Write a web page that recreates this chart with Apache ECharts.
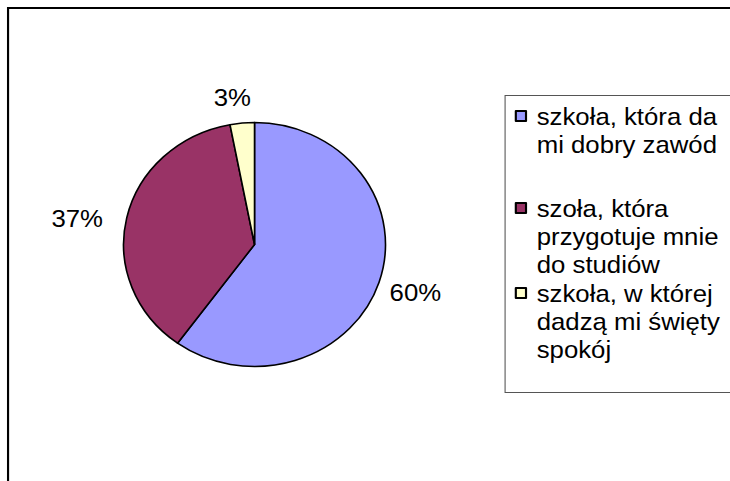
<!DOCTYPE html>
<html>
<head>
<meta charset="utf-8">
<script src="https://cdn.jsdelivr.net/npm/echarts@6/dist/echarts.min.js"></script>
<style>
html,body{margin:0;padding:0;background:#fff;overflow:hidden;}
#wrap{width:730px;height:481px;overflow:hidden;position:relative;}
#chart{width:680px;height:481px;transform:scaleX(1.0735);transform-origin:0 0;}
</style>
</head>
<body>
<div id="wrap"><div id="chart"></div></div>
<script>
// ---- data ----
const categories = [
  'szkoła, która da\nmi dobry zawód',
  'szoła, która\nprzygotuje mnie\ndo studiów',
  'szkoła, w której\ndadzą mi święty\nspokój'
];
const values = [60, 37, 3];
const colors = ['#9999FF', '#993366', '#FFFFCC'];

// ---- layout / style (drawing space is stretched horizontally like the original) ----
const FONT = '"Liberation Sans", Arial, sans-serif';
const LH = 28;
const legendTops = [74, 138, 223];
const labelNudge = [[-8.5, 5.5], [-3.5, 3], [14.5, -12]];

const chart = echarts.init(document.getElementById('chart'), null, {renderer: 'svg'});

const legends = categories.map(function (name, i) {
  const n = name.split('\n').length;
  return {
    show: true,
    orient: 'vertical',
    left: 479.5,
    top: legendTops[i],
    padding: 0,
    itemWidth: 9.5,
    itemHeight: 10,
    itemGap: 0,
    icon: 'rect',
    selectedMode: false,
    data: [name],
    formatter: function (nm) {
      const lines = [];
      for (let k = 0; k < n - 1; k++) lines.push('{t| }');
      nm.split('\n').forEach(function (s) { lines.push('{t|' + s + '}'); });
      return lines.join('\n');
    },
    textStyle: {
      color: '#000',
      fontSize: 24,
      fontFamily: FONT,
      lineHeight: LH,
      rich: {
        t: {color: '#000', fontSize: 24, fontFamily: FONT, lineHeight: LH, padding: [0, 0, 0, 5]}
      }
    }
  };
});

const option = {
  animation: false,
  backgroundColor: '#fff',
  color: colors,
  legend: legends,
  graphic: [
    {
      type: 'polyline',
      shape: {points: [[7.5, 490], [7.5, 8], [700, 8]]},
      style: {fill: 'none', stroke: '#000', lineWidth: 2},
      silent: true
    },
    {
      type: 'rect',
      shape: {x: 470.5, y: 95.5, width: 240, height: 297},
      style: {fill: 'none', stroke: '#555', lineWidth: 1},
      silent: true
    }
  ],
  series: [{
    type: 'pie',
    center: [237.1, 244.5],
    radius: 122,
    startAngle: 90,
    clockwise: true,
    avoidLabelOverlap: false,
    emphasis: {disabled: true},
    itemStyle: {borderColor: '#000', borderWidth: 1.5},
    label: {
      show: true,
      position: 'outside',
      formatter: function (p) { return Math.round(p.percent) + '%'; },
      color: '#000',
      fontSize: 24,
      fontFamily: FONT
    },
    labelLine: {show: false, length: 14, length2: 0},
    labelLayout: function (p) {
      const d = labelNudge[p.dataIndex];
      return {dx: d[0], dy: d[1]};
    },
    data: categories.map(function (c, i) { return {name: c, value: values[i]}; })
  }]
};
chart.setOption(option);
</script>
</body>
</html>
